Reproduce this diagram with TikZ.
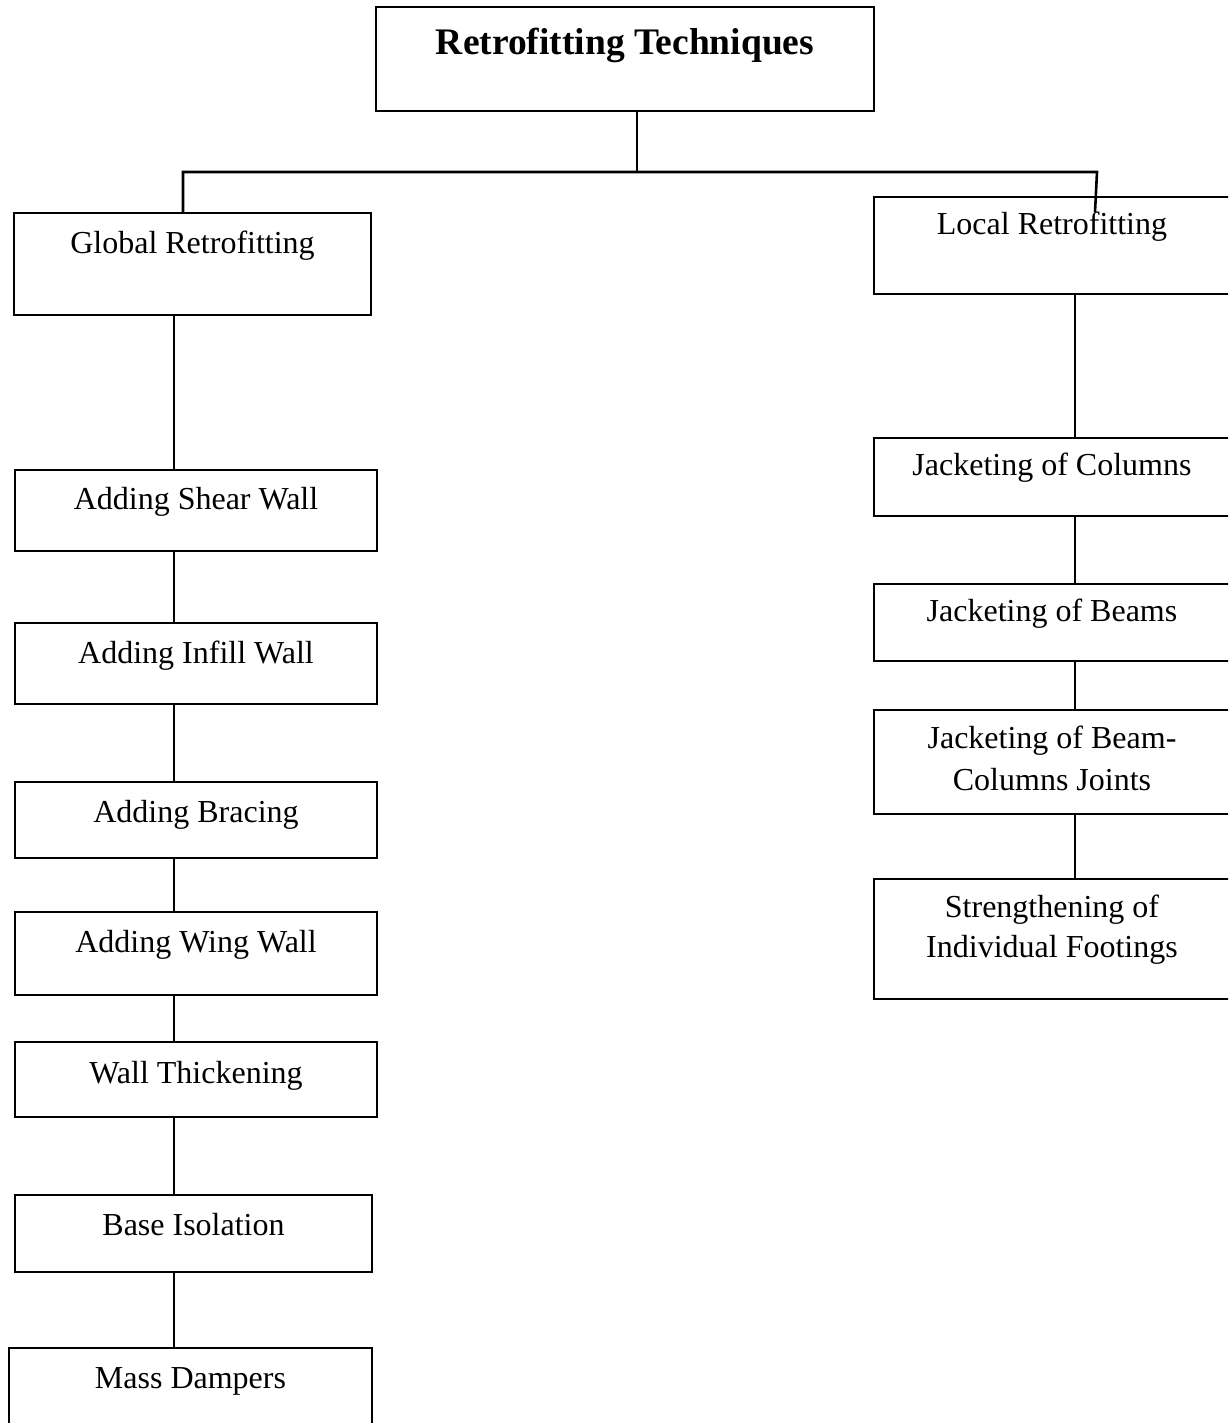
\documentclass[tikz,border=0pt]{standalone}
\usepackage{fontspec}
\setmainfont{Liberation Serif}
\begin{document}
\begin{tikzpicture}[x=1pt,y=-1pt,
  box/.style={draw, line width=2pt, inner sep=0pt, outer sep=0pt},
  rbox/.style={box, line width=2.6pt},
  txt/.style={anchor=base, inner sep=0pt, font=\fontsize{32}{40}\selectfont},
  ttl/.style={anchor=base, inner sep=0pt, font=\fontsize{37.5}{45}\selectfont\bfseries},
  lnk/.style={line width=2pt},
  rlnk/.style={line width=2.6pt}]
\useasboundingbox (0,0) rectangle (1228,1423);
\clip (0,0) rectangle (1228,1423);

% title
\node[rbox, minimum width=498pt, minimum height=104pt] (title) at (625,59) {};
\node[ttl] (titleT) at (625,55) {Retrofitting Techniques};

% level 1
\node[box, minimum width=357pt, minimum height=102pt] (glob) at (192.5,264) {};
\node[txt] (globT) at (192.5,254) {Global Retrofitting};
\node[rbox, minimum width=358pt, minimum height=97pt] (local) at (1053,245.5) {};
\node[txt] (localT) at (1052,235) {Local Retrofitting};

% left column
\node[box, minimum width=362pt, minimum height=81pt] (shear) at (196,510.5) {};
\node[txt] (shearT) at (196,509) {Adding Shear Wall};
\node[box, minimum width=362pt, minimum height=81pt] (infill) at (196,663.5) {};
\node[txt] (infillT) at (196,663) {Adding Infill Wall};
\node[box, minimum width=362pt, minimum height=76pt] (brac) at (196,820) {};
\node[txt] (bracT) at (196,822) {Adding Bracing};
\node[box, minimum width=362pt, minimum height=83pt] (wing) at (196,953.5) {};
\node[txt] (wingT) at (196,952) {Adding Wing Wall};
\node[box, minimum width=362pt, minimum height=75pt] (thick) at (196,1079.5) {};
\node[txt] (thickT) at (196,1083) {Wall Thickening};
\node[box, minimum width=357pt, minimum height=77pt] (base) at (193.5,1233.5) {};
\node[txt] (baseT) at (193.5,1235) {Base Isolation};
\node[box, minimum width=363pt, minimum height=92pt] (mass) at (190.5,1394) {};
\node[txt] (massT) at (190.5,1388) {Mass Dampers};

% right column
\node[rbox, minimum width=358pt, minimum height=78pt] (jc) at (1053,477) {};
\node[txt] (jcT) at (1052,475) {Jacketing of Columns};
\node[rbox, minimum width=358pt, minimum height=77pt] (jb) at (1053,622.5) {};
\node[txt] (jbT) at (1052,621) {Jacketing of Beams};
\node[rbox, minimum width=358pt, minimum height=104pt] (jj) at (1053,762) {};
\node[txt] (jjT1) at (1052,748) {Jacketing of Beam-};
\node[txt] (jjT2) at (1052,790) {Columns Joints};
\node[rbox, minimum width=358pt, minimum height=120pt] (sf) at (1053,939) {};
\node[txt] (sfT1) at (1052,917) {Strengthening of};
\node[txt] (sfT2) at (1052,957) {Individual Footings};

% connectors top
\coordinate (j) at (637,172);
\coordinate (hl) at (183,172);
\coordinate (hr) at (1097,172);
\coordinate (lend) at (1095,212);
\draw[rlnk] (title.south -| j) -- (j);
\draw[rlnk] (glob.north -| hl) -- (hl) -- (hr) -- (lend);

% left chain
\coordinate (lx) at (173.5,0);
\draw[lnk] (glob.south -| lx) -- (shear.north -| lx);
\draw[lnk] (shear.south -| lx) -- (infill.north -| lx);
\draw[lnk] (infill.south -| lx) -- (brac.north -| lx);
\draw[lnk] (brac.south -| lx) -- (wing.north -| lx);
\draw[lnk] (wing.south -| lx) -- (thick.north -| lx);
\draw[lnk] (thick.south -| lx) -- (base.north -| lx);
\draw[lnk] (base.south -| lx) -- (mass.north -| lx);

% right chain
\coordinate (rx) at (1075,0);
\draw[rlnk] (local.south -| rx) -- (jc.north -| rx);
\draw[rlnk] (jc.south -| rx) -- (jb.north -| rx);
\draw[rlnk] (jb.south -| rx) -- (jj.north -| rx);
\draw[rlnk] (jj.south -| rx) -- (sf.north -| rx);
\end{tikzpicture}
\end{document}
